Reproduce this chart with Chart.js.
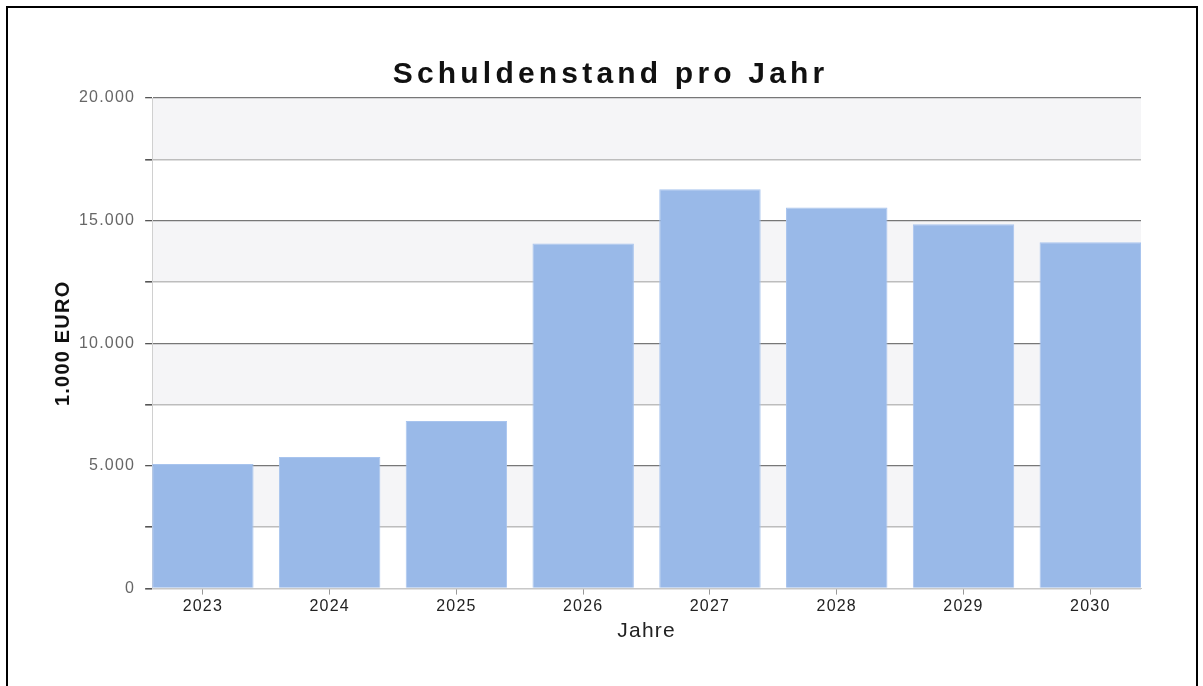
<!DOCTYPE html>
<html>
<head>
<meta charset="utf-8">
<script src="https://cdn.jsdelivr.net/npm/chart.js@4/dist/chart.umd.min.js"></script>
<style>
  html, body { margin: 0; padding: 0; background: #fff; overflow: hidden; }
  #frame { position: absolute; left: 6px; top: 6px; width: 1192px; height: 700px; border: 2px solid #000; box-sizing: border-box; }
  #wrap { position: absolute; left: 0; top: 0; width: 1203px; height: 686px; }
</style>
</head>
<body>
<div id="frame"></div>
<div id="wrap"><canvas id="c" width="1203" height="686"></canvas></div>
<script>
const years = [2023, 2024, 2025, 2026, 2027, 2028, 2029, 2030];
const debt = [5080, 5360, 6830, 14070, 16280, 15540, 14850, 14120];
const yTickStep = 2500;
const yLabelStep = 5000;
const titleText = 'Schuldenstand pro Jahr';
const yTitle = '1.000 EURO';
const xTitle = 'Jahre';

const FONT = 'Liberation Sans, Arial, sans-serif';
function fmtDE(v) { return String(v).replace(/\B(?=(\d{3})+(?!\d))/g, '.'); }

// Slightly widened lettering for all chart texts
const spacingPlugin = {
  id: 'spacing',
  beforeUpdate(chart) { chart.ctx.letterSpacing = '1.2px'; },
  beforeDraw(chart) { chart.ctx.letterSpacing = '1.2px'; }
};

const bandPlugin = {
  id: 'bands',
  beforeDraw(chart) {
    const { ctx, chartArea, scales } = chart;
    const y = scales.y;
    ctx.save();
    ctx.fillStyle = '#f5f5f7';
    for (let v = y.min; v < y.max; v += yTickStep) {
      if (Math.round(v / yTickStep) % 2 === 1) {
        const top = y.getPixelForValue(v + yTickStep);
        const bot = y.getPixelForValue(v);
        ctx.fillRect(chartArea.left, top, chartArea.right - chartArea.left, bot - top);
      }
    }
    ctx.restore();
  }
};

// Draws the chart title with wider letter spacing, as in the reference
const spacedTitlePlugin = {
  id: 'spacedTitle',
  afterDraw(chart) {
    const ctx = chart.ctx;
    const spacing = 4.2;
    ctx.save();
    ctx.letterSpacing = '0px';
    ctx.font = 'bold 30px ' + FONT;
    ctx.fillStyle = '#111';
    ctx.textBaseline = 'alphabetic';
    ctx.textAlign = 'left';
    const chars = Array.from(titleText);
    const widths = chars.map(ch => ctx.measureText(ch).width);
    const total = widths.reduce((a, b) => a + b, 0) + spacing * (chars.length - 1);
    let x = chart.width / 2 + 7 - total / 2;
    const baseline = 83;
    chars.forEach((ch, i) => { ctx.fillText(ch, x, baseline); x += widths[i] + spacing; });
    ctx.restore();
  }
};

new Chart(document.getElementById('c'), {
  type: 'bar',
  data: {
    datasets: [{
      data: years.map((yr, i) => ({ x: yr, y: debt[i] })),
      backgroundColor: '#99b9e8',
      borderColor: '#a8c4ee',
      borderWidth: 1,
      barPercentage: 0.8,
      categoryPercentage: 1.0
    }]
  },
  plugins: [spacingPlugin, bandPlugin, spacedTitlePlugin],
  options: {
    responsive: false,
    animation: false,
    devicePixelRatio: 1,
    layout: { padding: { left: 51, right: 62, top: 0, bottom: 42 } },
    plugins: {
      legend: { display: false },
      tooltip: { enabled: false },
      title: {
        display: true,
        text: titleText,
        color: 'rgba(0,0,0,0)',
        font: { family: FONT, size: 25, weight: 'bold', lineHeight: 1.2 },
        padding: { top: 48, bottom: 20 }
      }
    },
    scales: {
      x: {
        type: 'linear',
        offset: false,
        min: years[0] - 0.4,
        max: years[years.length - 1] + 0.4,
        afterBuildTicks(scale) { scale.ticks = years.map(v => ({ value: v })); },
        grid: { display: true, offset: false, drawOnChartArea: false, drawTicks: true, tickLength: 6, tickColor: '#999', lineWidth: 1 },
        border: { display: true, color: '#c8c8c8', width: 1 },
        ticks: {
          autoSkip: false,
          maxRotation: 0,
          color: '#222',
          padding: 2,
          font: { family: FONT, size: 16 },
          callback: v => String(v)
        },
        title: {
          display: true,
          text: xTitle,
          color: '#222',
          padding: { top: 1, bottom: 0 },
          font: { family: FONT, size: 21 }
        }
      },
      y: {
        min: 0,
        max: 20000,
        ticks: {
          stepSize: yTickStep,
          color: '#666',
          padding: 10,
          font: { family: FONT, size: 16 },
          callback: v => (v % yLabelStep === 0 ? fmtDE(v) : '')
        },
        grid: {
          drawTicks: true,
          tickLength: 7,
          color: c => (c.tick && c.tick.value === 0) ? '#c8c8c8' : (c.tick && c.tick.value % yLabelStep === 0 ? '#777' : '#bdbdbd'),
          tickColor: '#555',
          lineWidth: c => (c.tick && c.tick.value % yLabelStep === 0 && c.tick.value !== 0 ? 1.3 : 1.6)
        },
        border: { display: true, color: '#d0d0d0', width: 1 },
        title: {
          display: true,
          text: yTitle,
          color: '#111',
          padding: { top: 0, bottom: -6 },
          font: { family: FONT, size: 20, weight: 'bold' }
        }
      }
    }
  }
});
</script>
</body>
</html>
